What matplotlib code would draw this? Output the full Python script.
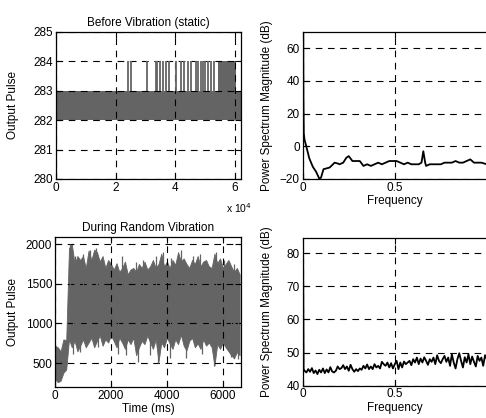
import numpy as np
import matplotlib
matplotlib.use("Agg")
import matplotlib.pyplot as plt

plt.rcParams['font.family'] = ['Liberation Sans', 'DejaVu Sans']
plt.rcParams['font.size'] = 8.5

# --- Before vibration (static): signal toggles between 282 and 283,
# with occasional jumps to 284
static_span = [0, 62000]
static_low = 282
static_high = 283
static_peak = 284
spike_times = [24100, 25000, 30600, 33600, 34000, 35000, 35800, 36900, 38000,
               40200, 41900, 43000, 44100, 45400, 46900, 47700, 48600, 49300,
               50000, 51100, 51900, 53000]
spike_block = [54400, 60400]

# --- During random vibration: envelope of output pulse, every 100 ms
vib_time = list(range(0, 6700, 100))
vib_upper = [720, 700, 650, 800, 790, 1950, 2000, 1750, 1850, 1800, 1850, 1700,
             1920, 1800, 1930, 1900, 1780, 1850, 1700, 1800, 1750, 1680, 1760,
             1650, 1700, 1780, 1620, 1680, 1700, 1650, 1750, 1700, 1780, 1680,
             1720, 1800, 1700, 1750, 1880, 1720, 1780, 1700, 1800, 1740, 1900,
             1780, 1820, 1750, 1700, 1800, 1750, 1850, 1720, 1780, 1800, 1720,
             1700, 1880, 1760, 1820, 1700, 1750, 1800, 1720, 1650, 1700, 1620]
vib_lower = [300, 260, 280, 380, 420, 800, 700, 780, 650, 720, 800, 700,
             760, 820, 700, 780, 850, 720, 800, 760, 850, 780, 700, 820,
             760, 680, 800, 740, 820, 600, 700, 780, 740, 850, 760, 680,
             800, 520, 760, 700, 820, 750, 680, 800, 740, 860, 720, 660,
             780, 820, 700, 750, 680, 800, 720, 760, 700, 470, 740, 680,
             760, 700, 650, 600, 560, 640, 600]
# isolated spikes sticking out of the envelope
vib_peak_t = [550, 700, 1000, 1250, 1450, 1500, 1650, 2400, 2900, 3150, 3600,
              3850, 4150, 4500, 4950, 5200, 5750, 6050, 6400]
vib_peak_v = [2000, 1850, 1870, 1920, 1950, 1880, 1800, 1850, 1780, 1800, 1850,
              1900, 1820, 1920, 1850, 1880, 1900, 1800, 1750]
vib_dip_t = [650, 900, 1550, 2250, 2550, 2950, 3400, 3700, 4100, 4700, 5250,
             5700, 6300, 6550]
vib_dip_v = [620, 640, 700, 620, 600, 520, 600, 500, 560, 560, 620, 470, 580,
             550]
vib_mid = 1250

# --- Power spectra
psd_static_f = [0.003, 0.004, 0.006, 0.01, 0.018, 0.036, 0.055, 0.073, 0.091, 0.1,
                0.113, 0.13, 0.146, 0.16, 0.173, 0.19, 0.2, 0.22, 0.237, 0.25,
                0.27, 0.29, 0.31, 0.33, 0.35, 0.37, 0.39, 0.41, 0.43, 0.45,
                0.47, 0.49, 0.51, 0.53, 0.55, 0.57, 0.59, 0.61, 0.63, 0.645,
                0.655, 0.665, 0.67, 0.69, 0.71, 0.73, 0.75, 0.77, 0.79, 0.81,
                0.83, 0.85, 0.87, 0.89, 0.91, 0.93, 0.95, 0.97, 1.0]
psd_static_db = [70, 30, 8, 4, 0.7, -7.4, -12.5, -15.6, -20, -19,
                 -14, -13.5, -13, -11.5, -10, -10.5, -11, -10, -7, -6,
                 -9, -9, -9, -12, -11, -12, -11, -10, -11, -10,
                 -9, -9, -9, -10, -11, -10, -11, -11, -11, -10,
                 -3, -10, -12, -11, -11, -11, -11, -10, -10, -10,
                 -9, -10, -10, -9, -8, -10, -10, -10, -11]

psd_vib_head_f = [0.002, 0.005]
psd_vib_head_db = [85, 45]
psd_vib_db = [44.5, 44.0, 45.0, 44.2, 45.3, 43.8, 44.6, 43.5, 44.8, 44.0,
              45.2, 43.8, 44.9, 44.0, 45.6, 44.3, 44.0, 44.5, 45.8, 45.0,
              45.3, 46.2, 45.0, 45.8, 44.5, 46.3, 45.0, 44.2, 45.0, 44.4,
              45.2, 44.8, 46.0, 45.2, 46.4, 45.0, 45.8, 45.0, 46.5, 45.5,
              46.0, 45.2, 47.2, 46.5, 46.0, 47.0, 45.5, 46.8, 45.2, 46.5,
              47.5, 45.0, 47.0, 45.5, 47.3, 46.5, 47.0, 47.5, 46.2, 48.0,
              47.0, 48.5, 46.5, 48.2, 47.0, 48.6, 47.5, 46.3, 48.0, 47.2,
              48.5, 46.5, 49.2, 47.5, 46.8, 48.0, 49.0, 47.2, 48.5, 46.0,
              49.5, 47.0, 45.2, 48.0, 49.8, 47.5, 45.5, 48.6, 47.0, 49.5,
              46.5, 48.8, 47.2, 45.8, 49.0, 47.5, 48.5, 46.0, 49.2, 48.0]

GRAY = '#646464'


def style_axes(ax):
    ax.tick_params(direction='in', top=True, right=True, length=4, width=0.8,
                   labelsize=8.5, pad=2)
    ax.grid(True, color='black', linestyle=(0, (6, 5)), linewidth=0.8)
    for s in ax.spines.values():
        s.set_linewidth(0.9)


fig = plt.figure(figsize=(4.86, 4.18), dpi=100)

# Top left
ax1 = fig.add_axes([0.1152, 0.5718, 0.3807, 0.3517])
ax1.fill_between(static_span, static_low, static_high, color=GRAY, linewidth=0)
ax1.vlines(spike_times, static_high, static_peak, color=GRAY, linewidth=1.3)
ax1.fill_between(spike_block, static_high, static_peak, color=GRAY, linewidth=0)
ax1.set_xlim(0, 62000)
ax1.set_ylim(280, 285)
ax1.set_xticks([0, 20000, 40000, 60000])
ax1.set_xticklabels(['0', '2', '4', '6'])
ax1.set_title('Before Vibration (static)', fontsize=8.5, pad=4)
ax1.set_ylabel('Output Pulse', fontsize=8.5)
ax1.yaxis.set_label_coords(-0.2, 0.5)
ax1.text(0.99, -0.2, 'x 10$^4$', transform=ax1.transAxes, ha='center',
         va='center', fontsize=7.5)
style_axes(ax1)

# Top right (right edge runs off the canvas, as in the source)
ax2 = fig.add_axes([0.6228, 0.5718, 0.3790, 0.3517])
ax2.plot(psd_static_f, psd_static_db, color='black', linewidth=1.3)
ax2.set_xlim(0, 1)
ax2.set_ylim(-20, 70)
ax2.set_xticks([0, 0.5, 1])
ax2.set_xticklabels(['0', '0.5', ''])
ax2.set_yticks([-20, 0, 20, 40, 60])
ax2.set_xlabel('Frequency', fontsize=8.5, labelpad=1)
ax2.set_ylabel('Power Spectrum Magnitude (dB)', fontsize=8.5)
ax2.yaxis.set_label_coords(-0.162, 0.5)
style_axes(ax2)
ax2.spines['right'].set_visible(False)
ax2.tick_params(right=False)

# Bottom left
ax3 = fig.add_axes([0.1132, 0.0742, 0.3827, 0.3589])
ax3.fill_between(vib_time, vib_lower, vib_upper, color=GRAY, linewidth=0.6,
                 edgecolor=GRAY)
ax3.vlines(vib_peak_t, vib_mid, vib_peak_v, color=GRAY, linewidth=0.9)
ax3.vlines(vib_dip_t, vib_dip_v, vib_mid, color=GRAY, linewidth=0.9)
ax3.set_xlim(0, 6650)
ax3.set_ylim(200, 2090)
ax3.set_xticks([0, 2000, 4000, 6000])
ax3.set_yticks([500, 1000, 1500, 2000])
ax3.set_title('During Random Vibration', fontsize=8.5, pad=4)
ax3.set_xlabel('Time (ms)', fontsize=8.5, labelpad=1)
ax3.set_ylabel('Output Pulse', fontsize=8.5)
ax3.yaxis.set_label_coords(-0.194, 0.5)
style_axes(ax3)

# Bottom right
ax4 = fig.add_axes([0.6228, 0.0773, 0.3790, 0.3541])
vib_f = psd_vib_head_f + list(np.linspace(0.01, 1.0, len(psd_vib_db)))
ax4.plot(vib_f, psd_vib_head_db + psd_vib_db, color='black', linewidth=1.3)
ax4.set_xlim(0, 1)
ax4.set_ylim(40, 84.7)
ax4.set_xticks([0, 0.5, 1])
ax4.set_xticklabels(['0', '0.5', ''])
ax4.set_yticks([40, 50, 60, 70, 80])
ax4.set_xlabel('Frequency', fontsize=8.5, labelpad=1)
ax4.set_ylabel('Power Spectrum Magnitude (dB)', fontsize=8.5)
ax4.yaxis.set_label_coords(-0.162, 0.5)
style_axes(ax4)
ax4.spines['right'].set_visible(False)
ax4.tick_params(right=False)

fig.savefig('out.png', dpi=100)
